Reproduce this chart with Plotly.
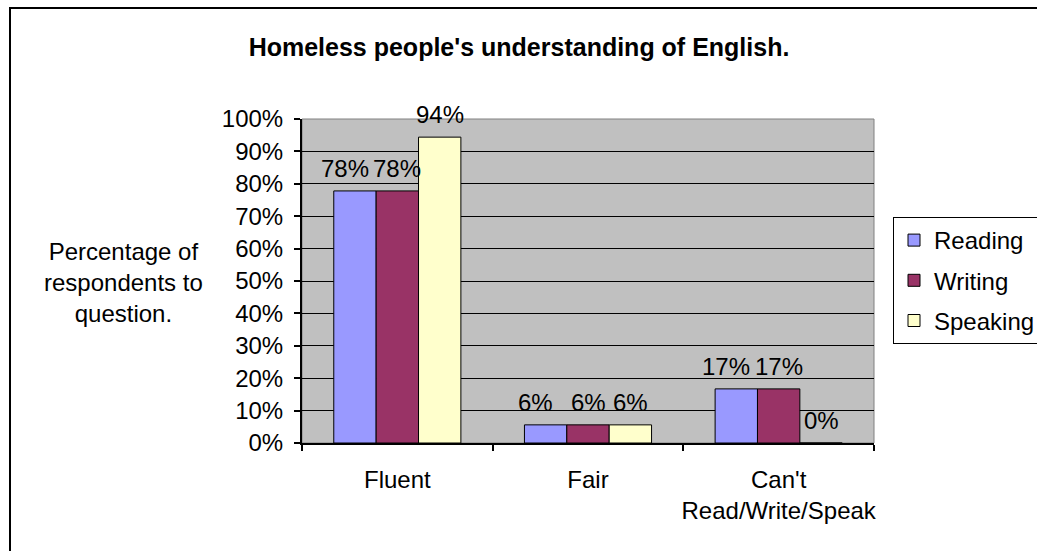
import plotly.graph_objects as go

categories = ["Fluent", "Fair", "Can't<br>Read/Write/Speak"]
series_names = ["Reading", "Writing", "Speaking"]
reading = [0.778, 0.056, 0.167]
writing = [0.778, 0.056, 0.167]
speaking = [0.944, 0.056, 0.0]
colors = ["#9999ff", "#993366", "#ffffcc"]
ytick_vals = [i / 10 for i in range(11)]
ytick_text = [f"{i*10}%" for i in range(11)]

FONT = "Liberation Sans, Arial, sans-serif"
FS = 24

L, R, T, B = 302, 163, 119, 108
W, H = 1037, 551
pw, ph = W - L - R, H - T - B
BARGAP = 1 / 3
n_series = len(series_names)
bar_px = pw / len(categories) * (1 - BARGAP) / n_series

def px_to_paper_x(px):
    return (px - L) / pw

def px_to_paper_y(py):
    return (H - B - py) / ph

fig = go.Figure()
all_series = [reading, writing, speaking]
label_nudge = [-10, 0, 0]  # keep adjacent labels from colliding
for i, (name, vals, col) in enumerate(zip(series_names, all_series, colors)):
    fig.add_trace(go.Bar(
        name=name, x=categories, y=vals, legendgroup=name,
        marker=dict(color=col, line=dict(color="black", width=1)),
    ))
    for cat, v in zip(categories, vals):
        fig.add_annotation(
            x=cat, y=v, xref="x", yref="y", text=f"{round(v*100)}%",
            showarrow=False, xanchor="center", yanchor="bottom",
            xshift=(i - (n_series - 1) / 2) * bar_px + label_nudge[i], yshift=8,
            font=dict(family=FONT, size=FS, color="black"), borderpad=0,
        )

fig.update_layout(
    width=W, height=H,
    margin=dict(l=L, r=R, t=T, b=B, autoexpand=False),
    paper_bgcolor="white", plot_bgcolor="#c0c0c0",
    barmode="group", bargap=BARGAP, bargroupgap=0,
    font=dict(family=FONT, size=FS, color="black"),
    title=dict(text="<b>Homeless people's understanding of English.</b>",
               x=px_to_paper_x(519), xref="paper", xanchor="center",
               y=1 - 47 / H, yanchor="middle",
               font=dict(family=FONT, size=25, color="black")),
    showlegend=True,
    legend=dict(x=px_to_paper_x(893), xanchor="left", y=px_to_paper_y(217), yanchor="top",
                bordercolor="black", borderwidth=1, bgcolor="white",
                font=dict(family=FONT, size=FS), itemwidth=30, tracegroupgap=6),
)
fig.update_yaxes(range=[0, 1], tickvals=ytick_vals, ticktext=ytick_text,
                 showgrid=True, gridcolor="black", gridwidth=1,
                 showline=True, linecolor="black", linewidth=2,
                 ticks="outside", ticklen=6, tickcolor="black", tickwidth=2,
                 ticklabelstandoff=6, zeroline=False,
                 tickfont=dict(family=FONT, size=FS))
fig.update_xaxes(showline=True, linecolor="black", linewidth=2,
                 ticks="outside", ticklen=6, tickcolor="black", tickwidth=2,
                 tickson="boundaries", ticklabelstandoff=14, tickangle=0,
                 tickfont=dict(family=FONT, size=FS), showgrid=False)

# plot area border (gray)
fig.add_shape(type="rect", xref="paper", yref="paper", x0=0, x1=1, y0=0, y1=1,
              line=dict(color="#808080", width=1), layer="below")
# outer chart border
fig.add_shape(type="rect", xref="paper", yref="paper",
              x0=px_to_paper_x(10), x1=px_to_paper_x(1050),
              y0=px_to_paper_y(560), y1=px_to_paper_y(8),
              line=dict(color="black", width=2))

fig.add_annotation(text="Percentage of<br>respondents to<br>question.",
                   xref="paper", yref="paper",
                   x=px_to_paper_x(123), y=px_to_paper_y(282),
                   xanchor="center", yanchor="middle", showarrow=False,
                   font=dict(family=FONT, size=FS, color="black"), align="center")

fig.write_html("out.html")
